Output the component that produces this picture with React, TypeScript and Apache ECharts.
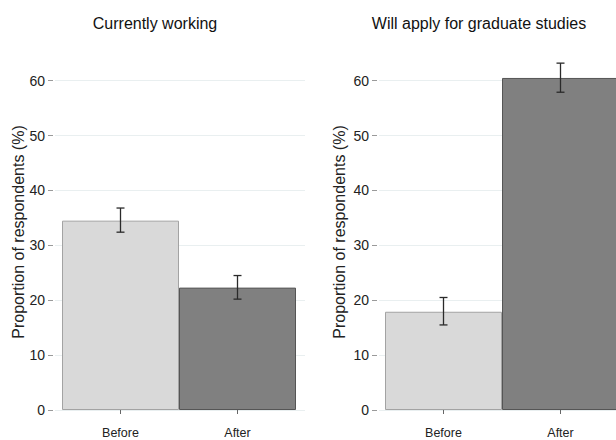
import React, { useEffect, useRef } from "react";
import * as echarts from "echarts";

const categories = ["Before", "After"];
const panelTitles = ["Currently working", "Will apply for graduate studies"];
const yAxisTitle = "Proportion of respondents (%)";

const workingMeans = [34.5, 22.3];
const workingLow = [32.4, 20.2];
const workingHigh = [36.8, 24.5];

const gradMeans = [17.9, 60.5];
const gradLow = [15.5, 57.9];
const gradHigh = [20.5, 63.2];

const yMin = 0;
const yMax = 60;
const yInterval = 10;

const barFills = ["#d9d9d9", "#808080"];
const barBorders = ["#a3a3a3", "#555555"];

const FONT = "Liberation Sans, Arial, sans-serif";
const CANVAS_W = 640;

export default function App() {
  const ref = useRef<HTMLDivElement>(null);

  useEffect(() => {
    if (!ref.current) return;
    const chart = echarts.init(ref.current, undefined, { renderer: "svg" });

    const bgY = (gridIndex: number) => ({
      type: "value",
      gridIndex,
      min: yMin,
      max: yMax,
      interval: yInterval,
      offset: 2,
      axisLine: { show: false },
      axisTick: { show: true, length: 5, lineStyle: { color: "#9a9a9a", width: 1 } },
      axisLabel: { fontSize: 14, color: "#222", fontFamily: FONT, margin: 8 },
      splitLine: { show: true, lineStyle: { color: "#e9eff0", width: 1 } },
    });
    const barY = (gridIndex: number) => ({
      type: "value",
      gridIndex,
      min: yMin,
      max: yMax,
      interval: yInterval,
      show: false,
      splitLine: { show: false },
    });
    const hiddenX = (gridIndex: number) => ({
      type: "category",
      gridIndex,
      data: categories,
      show: false,
    });
    const barX = (gridIndex: number) => ({
      type: "category",
      gridIndex,
      data: categories,
      offset: 6,
      axisLine: { show: false },
      axisTick: { show: true, alignWithLabel: true, length: 4, lineStyle: { color: "#666", width: 1 } },
      axisLabel: { fontSize: 12.5, color: "#222", fontFamily: FONT, margin: 10 },
      splitLine: { show: false },
    });

    const barSeries = (idx: number, means: number[]) => ({
      type: "bar",
      xAxisIndex: idx,
      yAxisIndex: idx,
      barWidth: "100%",
      clip: false,
      data: means.map((v, i) => ({
        value: v,
        itemStyle: { color: barFills[i], borderColor: barBorders[i], borderWidth: 1 },
      })),
    });

    const errSeries = (idx: number, low: number[], high: number[]) => ({
      type: "custom",
      xAxisIndex: idx,
      yAxisIndex: idx,
      clip: false,
      z: 5,
      data: low.map((l, i) => [i, l, high[i]]),
      renderItem: (params: any, api: any) => {
        const x = api.value(0);
        const lo = api.coord([x, api.value(1)]);
        const hi = api.coord([x, api.value(2)]);
        const cap = 4;
        const style = { stroke: "#2a2a2a", lineWidth: 1.3 };
        return {
          type: "group",
          children: [
            { type: "line", shape: { x1: lo[0], y1: lo[1], x2: hi[0], y2: hi[1] }, style },
            { type: "line", shape: { x1: lo[0] - cap, y1: lo[1], x2: lo[0] + cap, y2: lo[1] }, style },
            { type: "line", shape: { x1: hi[0] - cap, y1: hi[1], x2: hi[0] + cap, y2: hi[1] }, style },
          ],
        };
      },
    });

    const top = 80.7;
    const bottom = 30;

    chart.setOption({
      animation: false,
      backgroundColor: "#ffffff",
      textStyle: { fontFamily: FONT },
      grid: [
        { left: 55, right: CANVAS_W - 305, top, bottom },
        { left: 62, right: CANVAS_W - 296, top, bottom },
        { left: 379, right: 0, top, bottom },
        { left: 385, right: CANVAS_W - 619, top, bottom },
      ],
      xAxis: [hiddenX(0), barX(1), hiddenX(2), barX(3)],
      yAxis: [bgY(0), barY(1), bgY(2), barY(3)],
      series: [
        barSeries(1, workingMeans),
        errSeries(1, workingLow, workingHigh),
        barSeries(3, gradMeans),
        errSeries(3, gradLow, gradHigh),
      ],
      graphic: [
        {
          type: "text",
          x: 155,
          y: 23,
          style: { text: panelTitles[0], fontSize: 16, fill: "#111", fontFamily: FONT, align: "center", verticalAlign: "middle" },
        },
        {
          type: "text",
          x: 479,
          y: 23,
          style: { text: panelTitles[1], fontSize: 16, fill: "#111", fontFamily: FONT, align: "center", verticalAlign: "middle" },
        },
        {
          type: "text",
          x: 18,
          y: 232,
          rotation: Math.PI / 2,
          style: { text: yAxisTitle, fontSize: 16, fill: "#222", fontFamily: FONT, align: "center", verticalAlign: "middle" },
        },
        {
          type: "text",
          x: 339,
          y: 232,
          rotation: Math.PI / 2,
          style: { text: yAxisTitle, fontSize: 16, fill: "#222", fontFamily: FONT, align: "center", verticalAlign: "middle" },
        },
      ],
    });

    return () => chart.dispose();
  }, []);

  return (
    <div style={{ position: "fixed", left: 0, top: 0, width: 616, height: 440, overflow: "hidden" }}>
      <div ref={ref} style={{ width: CANVAS_W, height: 440 }} />
    </div>
  );
}
